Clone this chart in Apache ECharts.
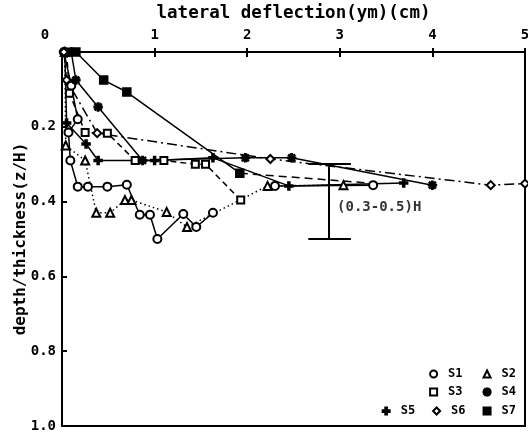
<!DOCTYPE html>
<html>
<head>
<meta charset="utf-8">
<script src="https://cdn.jsdelivr.net/npm/echarts@6/dist/echarts.min.js"></script>
<style>
  html, body { margin: 0; padding: 0; background: #fff; }
  #chart { width: 528px; height: 435px; }
</style>
</head>
<body>
<div id="chart"></div>
<script>
// Lateral deflection (cm) against relative depth z/H for sections S1–S7.
const xTickLabels = ['0', '1', '2', '3', '4', '5'];
const yTickLabels = ['0.2', '0.4', '0.6', '0.8', '1.0'];

// [deflection (cm), z/H]
const S1 = [[0.02, 0], [0.10, 0.09], [0.17, 0.18], [0.07, 0.215], [0.09, 0.29], [0.17, 0.36], [0.28, 0.36],
            [0.49, 0.36], [0.70, 0.355], [0.84, 0.435], [0.95, 0.435], [1.03, 0.50], [1.31, 0.433],
            [1.45, 0.468], [1.63, 0.43], ['-', '-'], [2.30, 0.358], [3.36, 0.356]];
const S2 = [[0.03, 0], [0.04, 0.25], [0.25, 0.29], [0.37, 0.43], [0.52, 0.43], [0.68, 0.396], [0.75, 0.396],
            [1.13, 0.428], [1.35, 0.468], [2.22, 0.358], [3.04, 0.356]];
const S3 = [[0.05, 0], [0.08, 0.11], [0.25, 0.215], [0.49, 0.217], [0.79, 0.29], [1.10, 0.29], [1.44, 0.30],
            [1.55, 0.30], [1.93, 0.396]];
const S4 = [[0.10, 0], [0.15, 0.075], [0.39, 0.147], [0.87, 0.29], [1.98, 0.283], [2.48, 0.283], [4.0, 0.356]];
const S5 = [[0.03, 0], [0.05, 0.19], [0.26, 0.246], [0.39, 0.29], [1.0, 0.29], [1.63, 0.283], [2.45, 0.358],
            [3.69, 0.35]];
const S6 = [[0.02, 0], [0.05, 0.075], [0.38, 0.217], [2.25, 0.286], [4.63, 0.356], [5.0, 0.352]];
const S7 = [[0.15, 0], [0.45, 0.075], [0.70, 0.107], [1.92, 0.324]];
const S7tail = [[1.92, 0.324], [3.3, 0.35]];

// Sliding zone bracket
const bandDepth = [0.3, 0.5];
const bandX = 2.88;
const bandCap = [2.66, 3.12];
const bandText = '(0.3-0.5)H';
const bandTextAt = [2.97, 0.415];

const FONT = 'DejaVu Sans Mono';
const INK = '#000';

const plusPath = 'path://M3,0H5V3H8V5H5V8H3V5H0V3H3Z';
const starPath = 'path://M3.3,0H4.7V2.6L6.6,0.7L7.3,1.4L5.4,3.3H8V4.7H5.4L7.3,6.6L6.6,7.3L4.7,5.4V8H3.3V5.4L1.4,7.3L0.7,6.6L2.6,4.7H0V3.3H2.6L0.7,1.4L1.4,0.7L3.3,2.6Z';

function profile(name, data, symbol, size, dash, extra) {
  return Object.assign({
    name: name,
    type: 'line',
    data: data,
    symbol: symbol,
    symbolSize: size,
    showAllSymbol: true,
    connectNulls: false,
    animation: false,
    lineStyle: { color: INK, width: 1.5, type: dash },
    itemStyle: { color: INK, borderColor: INK, borderWidth: 1.5 },
    z: 3
  }, extra || {});
}

const legendCommon = {
  orient: 'horizontal',
  itemWidth: 7,
  itemHeight: 7,
  itemGap: 20,
  selectedMode: false,
  padding: 0,
  textStyle: { fontFamily: FONT, fontWeight: 'bold', fontSize: 12, color: INK, padding: [0, 0, 0, 6] }
};

const option = {
  backgroundColor: '#fff',
  animation: false,
  grid: {
    left: 62, top: 52, right: 3, bottom: 9,
    outerBoundsMode: 'none', containLabel: false,
    show: true, borderColor: INK, borderWidth: 2
  },
  xAxis: [
    {
      type: 'value', position: 'top', min: 0, max: 5, interval: 1,
      name: 'lateral deflection(ym)(cm)', nameLocation: 'middle', nameGap: 30,
      nameMoveOverlap: false,
      nameTextStyle: { fontFamily: FONT, fontWeight: 'bold', fontSize: 17.5, color: INK },
      axisLine: { show: true, lineStyle: { color: INK, width: 2 } },
      axisTick: { show: true, inside: true, length: 5, lineStyle: { color: INK, width: 2 } },
      splitLine: { show: false },
      axisLabel: {
        margin: 10, color: INK, fontFamily: FONT, fontWeight: 'bold', fontSize: 14,
        formatter: v => {
          const t = xTickLabels[Math.round(v)];
          return v === 0 ? '{o|' + t + '}' : t;
        },
        rich: { o: { fontFamily: FONT, fontWeight: 'bold', fontSize: 14, color: INK, padding: [0, 34, 0, 0] } }
      }
    },
    {
      type: 'value', position: 'bottom', min: 0, max: 5, interval: 1,
      axisLine: { show: true, lineStyle: { color: INK, width: 2 } },
      axisTick: { show: true, inside: true, length: 4, lineStyle: { color: INK, width: 2 } },
      axisLabel: { show: false }, splitLine: { show: false }
    }
  ],
  yAxis: [
    {
      type: 'value', inverse: true, min: 0, max: 1, interval: 0.2,
      name: 'depth/thickness(z/H)', nameLocation: 'middle', nameGap: 33, nameRotate: 90,
      nameMoveOverlap: false,
      nameTextStyle: { fontFamily: FONT, fontWeight: 'bold', fontSize: 16, color: INK },
      axisLine: { show: true, lineStyle: { color: INK, width: 2 } },
      axisTick: { show: true, inside: true, length: 5, lineStyle: { color: INK, width: 2 } },
      splitLine: { show: false },
      axisLabel: {
        margin: 6, color: INK, fontFamily: FONT, fontWeight: 'bold', fontSize: 14,
        formatter: v => {
          const i = Math.round(v / 0.2) - 1;
          return i >= 0 ? yTickLabels[i] : '';
        }
      }
    },
    {
      type: 'value', position: 'right', inverse: true, min: 0, max: 1,
      axisLine: { show: true, lineStyle: { color: INK, width: 2 } },
      axisTick: { show: false }, axisLabel: { show: false }, splitLine: { show: false }
    }
  ],
  legend: [
    Object.assign({}, legendCommon, {
      right: 12, top: 368,
      data: [{ name: 'S1', icon: 'emptyCircle' }, { name: 'S2', icon: 'emptyTriangle' }]
    }),
    Object.assign({}, legendCommon, {
      right: 12, top: 386,
      data: [{ name: 'S3', icon: 'emptyRect' }, { name: 'S4', icon: starPath }]
    }),
    Object.assign({}, legendCommon, {
      right: 12, top: 405, itemGap: 17,
      data: [{ name: 'S5', icon: plusPath }, { name: 'S6', icon: 'emptyDiamond' }, { name: 'S7', icon: 'rect' }]
    })
  ],
  series: [
    profile('S1', S1, 'emptyCircle', 8, 'solid'),
    profile('S2', S2, 'emptyTriangle', 8, [1.5, 3]),
    profile('S3', S3, 'emptyRect', 7, [6, 4]),
    profile('S4', S4, starPath, 8, 'solid'),
    profile('S5', S5, plusPath, 8, 'solid'),
    profile('S6', S6, 'emptyDiamond', 8, [10, 4, 2, 4]),
    profile('S7', S7, 'rect', 8, 'solid'),
    profile('S7', S7tail, 'none', 0, [8, 5]),
    {
      name: 'band', type: 'line', data: [], animation: false, silent: true,
      markLine: {
        silent: true, symbol: ['none', 'none'], animation: false,
        label: { show: false },
        lineStyle: { color: INK, width: 2, type: 'solid' },
        data: [
          [{ coord: [bandX, bandDepth[0]] }, { coord: [bandX, bandDepth[1]] }],
          [{ coord: [bandCap[0], bandDepth[0]] }, { coord: [bandCap[1], bandDepth[0]] }],
          [{ coord: [bandCap[0], bandDepth[1]] }, { coord: [bandCap[1], bandDepth[1]] }]
        ]
      }
    },
    {
      name: 'bandLabel', type: 'scatter', silent: true, animation: false,
      data: [bandTextAt], symbolSize: 0,
      label: {
        show: true, position: 'right', distance: 0, formatter: bandText,
        fontFamily: FONT, fontWeight: 'bold', fontSize: 14, color: INK
      }
    }
  ]
};

const chart = echarts.init(document.getElementById('chart'), null, { renderer: 'canvas' });
chart.setOption(option);
</script>
</body>
</html>
